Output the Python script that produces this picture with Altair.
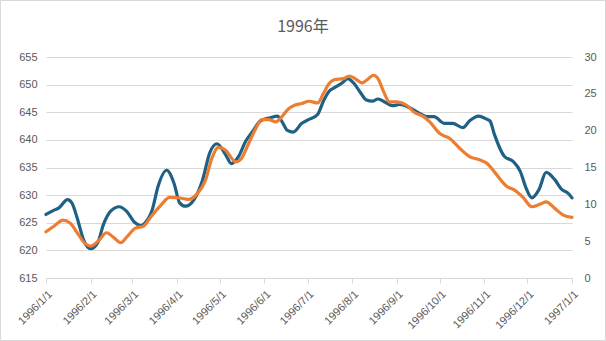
import altair as alt
import pandas as pd

title_text = "1996年"

# day offsets from 1996-01-01 and values
blue_days = [0, 5, 9, 15, 18, 22, 26, 31, 36, 40, 45, 51, 56, 62, 66, 69, 74, 78, 84, 89,
             93, 97, 103, 109, 114, 119, 125, 129, 134, 139, 144, 149, 156, 161, 164, 168,
             172, 178, 183, 189, 193, 197, 201, 206, 210, 214, 219, 223, 227, 231, 236, 241,
             246, 253, 260, 265, 270, 277, 283, 290, 295, 301, 307, 309, 312, 319, 325, 330,
             334, 338, 343, 348, 354, 359, 363, 366]
blue_vals = [626.5, 627.2, 627.7, 629.2, 628.6, 625.6, 622.0, 620.3, 621.4, 624.7, 627.1,
             627.9, 627.1, 625.0, 624.5, 625.0, 627.4, 631.6, 634.5, 632.2, 628.6, 628.0,
             629.2, 632.8, 637.7, 639.3, 637.3, 635.7, 637.0, 639.8, 641.6, 643.4, 644.0,
             644.3, 643.4, 641.7, 641.4, 643.0, 643.7, 644.6, 647.0, 648.8, 649.5, 650.3,
             651.1, 650.3, 648.5, 647.2, 647.0, 647.4, 646.8, 646.2, 646.4, 645.8, 644.8,
             644.2, 644.2, 643.0, 643.0, 642.2, 643.5, 644.3, 643.7, 643.4, 641.0, 637.0,
             636.1, 634.3, 631.3, 629.5, 631.0, 634.1, 632.8, 631.0, 630.4, 629.5]

orange_days = [0, 5, 12, 17, 22, 26, 31, 37, 42, 47, 52, 56, 62, 68, 73, 80, 86, 92, 99,
               105, 111, 115, 120, 125, 132, 136, 141, 146, 150, 155, 160, 164, 169, 173,
               178, 183, 189, 193, 197, 201, 207, 211, 215, 220, 223, 228, 231, 235, 239,
               244, 251, 256, 263, 267, 274, 281, 288, 295, 301, 307, 312, 321, 326, 332,
               338, 344, 348, 354, 360, 366]
orange_vals = [6.28, 6.96, 7.86, 7.42, 6.06, 4.92, 4.34, 5.15, 6.14, 5.52, 4.79, 5.52, 6.74,
               7.05, 8.31, 9.9, 10.94, 10.89, 10.67, 11.39, 13.29, 16.0, 17.72, 17.35, 15.77,
               16.23, 18.26, 20.29, 21.51, 21.51, 21.19, 21.87, 23.01, 23.45, 23.68, 23.99,
               23.76, 25.04, 26.39, 26.94, 27.07, 27.42, 27.07, 26.48, 26.84, 27.52, 27.07,
               25.26, 23.9, 23.9, 23.45, 22.54, 21.87, 21.19, 19.62, 18.94, 17.58, 16.44,
               16.09, 15.55, 14.41, 12.38, 11.93, 10.94, 9.67, 10.03, 10.34, 9.45, 8.54, 8.23]

month_ticks = ["1996-01-01", "1996-02-01", "1996-03-01", "1996-04-01", "1996-05-01",
               "1996-06-01", "1996-07-01", "1996-08-01", "1996-09-01", "1996-10-01",
               "1996-11-01", "1996-12-01", "1997-01-01"]
left_ticks = [615, 620, 625, 630, 635, 640, 645, 650, 655]
right_ticks = [0, 5, 10, 15, 20, 25, 30]

base = pd.Timestamp("1996-01-01")


def to_dates(days):
    return [(base + pd.Timedelta(days=d)).strftime("%Y-%m-%d") for d in days]


def dt(s):
    return alt.DateTime(year=int(s[:4]), month=int(s[5:7]), date=int(s[8:10]), utc=True)


df_b = pd.DataFrame({"date": to_dates(blue_days), "v": blue_vals})
df_o = pd.DataFrame({"date": to_dates(orange_days), "v": orange_vals})

FONT = "Liberation Sans"
LABEL = "#595959"
GRID = "#d9d9d9"

x_enc = alt.X(
    "date:T",
    title=None,
    scale=alt.Scale(type="utc", domain=[dt(month_ticks[0]), dt(month_ticks[-1])]),
    axis=alt.Axis(values=[dt(s) for s in month_ticks],
                  labelExpr="utcFormat(datum.value, '%Y/%-m/%-d')",
                  labelAngle=-45, labelAlign="right", labelBaseline="top",
                  labelColor=LABEL, labelFontSize=11, labelFont=FONT, labelPadding=5,
                  domainColor=GRID, tickColor=GRID, tickSize=5, grid=False,
                  labelOverlap=False, labelBound=False, labelFlush=False),
)

blue = alt.Chart(df_b).mark_line(interpolate="monotone", strokeWidth=3.2, color="#1f6185",
                                 strokeCap="round", strokeJoin="round").encode(
    x=x_enc,
    y=alt.Y("v:Q", title=None,
            scale=alt.Scale(domain=[615, 655], nice=False, zero=False),
            axis=alt.Axis(values=left_ticks, orient="left", grid=True, gridColor=GRID,
                          domain=False, ticks=False, labelColor=LABEL, labelFontSize=11,
                          labelFont=FONT, labelPadding=9)),
)

orange = alt.Chart(df_o).mark_line(interpolate="monotone", strokeWidth=3.2, color="#ed7d31",
                                   strokeCap="round", strokeJoin="round").encode(
    x=x_enc,
    y=alt.Y("v:Q", title=None,
            scale=alt.Scale(domain=[0, 30], nice=False),
            axis=alt.Axis(values=right_ticks, orient="right", grid=False,
                          domain=False, ticks=False, labelColor=LABEL, labelFontSize=11,
                          labelFont=FONT, labelPadding=12)),
)

deco = pd.DataFrame({"t": [title_text]})

border = alt.Chart(deco).mark_rect(
    fill="white", fillOpacity=0, stroke=GRID, strokeWidth=1
).encode(x=alt.value(-45.5), x2=alt.value(559.5), y=alt.value(-56.5), y2=alt.value(283.5))

title = alt.Chart(deco).mark_text(
    font="Noto Sans CJK SC", fontSize=16, color=LABEL, align="center", baseline="middle"
).encode(x=alt.value(257), y=alt.value(-30), text="t:N")

chart = alt.layer(blue, orange, border, title).resolve_scale(y="independent").properties(
    width=526, height=221,
    autosize=alt.AutoSizeParams(type="none"),
    padding={"left": 46, "top": 57, "right": 34, "bottom": 63},
    background="white",
).configure_view(stroke=None)

chart.save("out.html", embed_options={"renderer": "svg", "actions": False})
